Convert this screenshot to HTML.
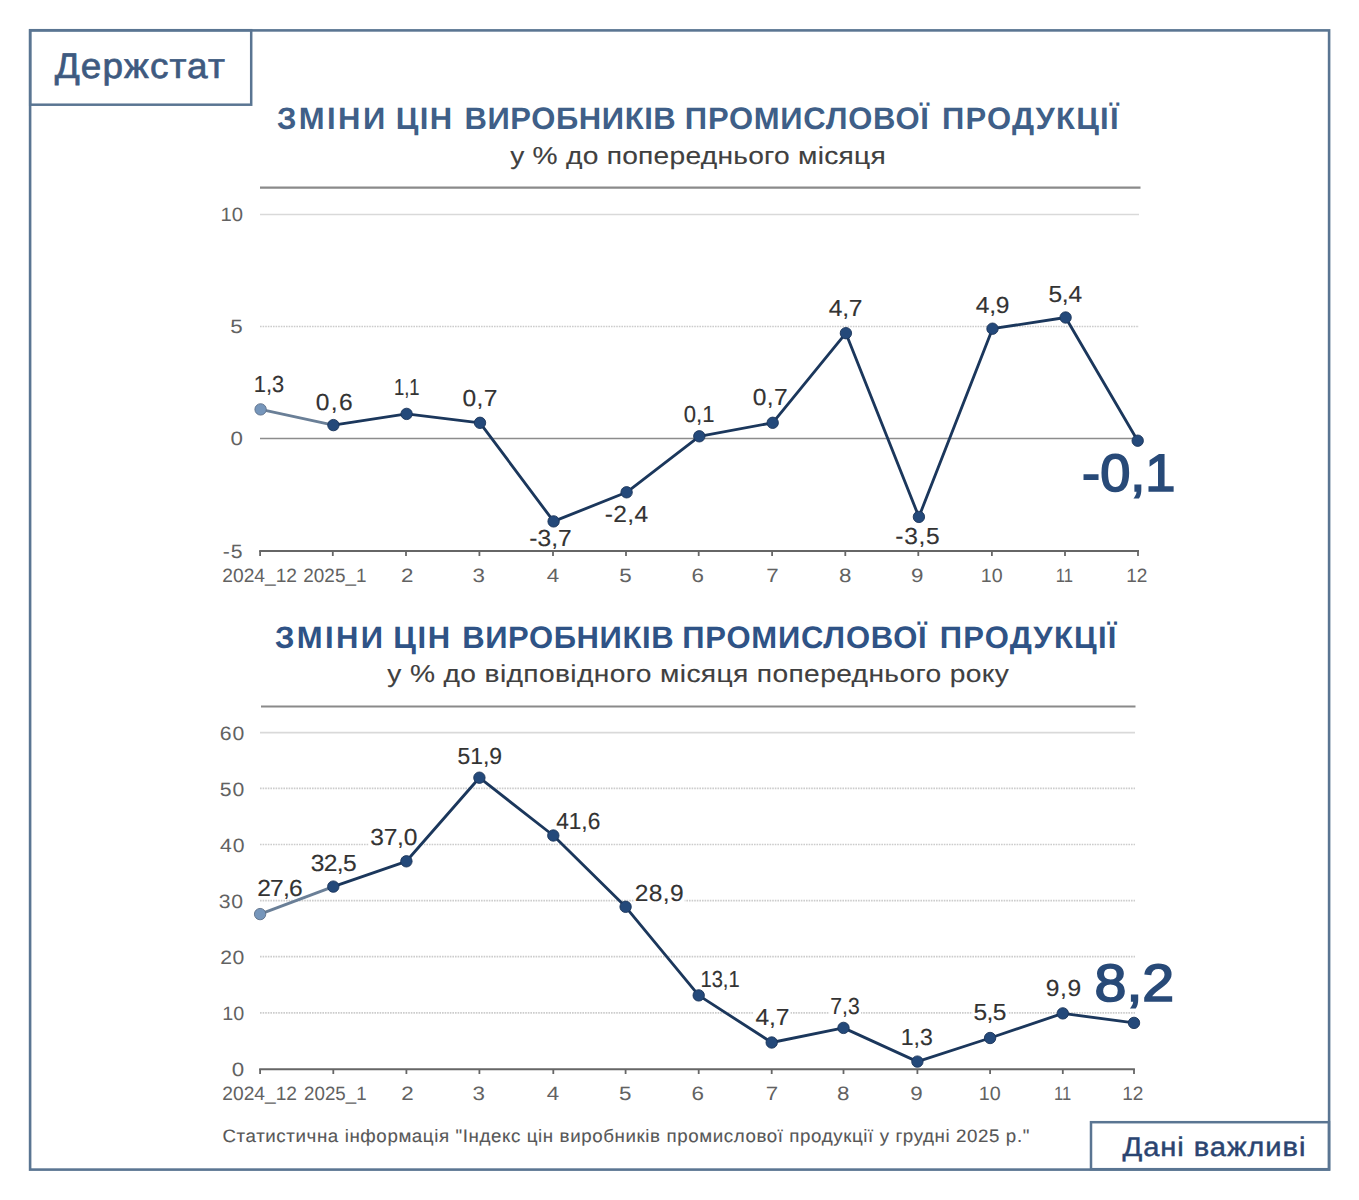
<!DOCTYPE html><html><head><meta charset="utf-8"><title>Держстат</title><style>html,body{margin:0;padding:0;background:#fff;overflow:hidden;}svg{display:block;}text{font-family:"Liberation Sans",sans-serif;text-rendering:geometricPrecision;}</style></head><body>
<svg width="1359" height="1200" viewBox="0 0 1359 1200">
<rect x="0" y="0" width="1359" height="1200" fill="#ffffff"/>
<rect x="30.1" y="30.4" width="1299" height="1139.2" fill="none" stroke="#5a7592" stroke-width="2.6"/>
<rect x="30.2" y="30.2" width="221" height="74.5" fill="none" stroke="#5a7592" stroke-width="2.5"/>
<rect x="1091" y="1122.2" width="238" height="47" fill="none" stroke="#5a7592" stroke-width="2.5"/>
<text transform="translate(54.66,78.00) scale(1.0400,1)" font-size="35.5" fill="#3e5a80" text-anchor="start" font-weight="normal" stroke="#3e5a80" stroke-width="0.7" letter-spacing="1.077">Держстат</text>
<text transform="translate(277.00,129.40) scale(1.0000,1)" font-size="31" fill="#3f5f88" text-anchor="start" font-weight="bold" letter-spacing="2.409">ЗМІНИ</text>
<text transform="translate(274.95,647.60) scale(1.0000,1)" font-size="31" fill="#2f5386" text-anchor="start" font-weight="bold" letter-spacing="2.389">ЗМІНИ</text>
<text transform="translate(395.65,129.40) scale(1.0000,1)" font-size="31" fill="#3f5f88" text-anchor="start" font-weight="bold" letter-spacing="1.425">ЦІН</text>
<text transform="translate(393.26,647.60) scale(1.0000,1)" font-size="31" fill="#2f5386" text-anchor="start" font-weight="bold" letter-spacing="1.584">ЦІН</text>
<text transform="translate(464.47,129.40) scale(1.0000,1)" font-size="31" fill="#3f5f88" text-anchor="start" font-weight="bold" letter-spacing="0.594">ВИРОБНИКІВ</text>
<text transform="translate(462.16,647.60) scale(1.0000,1)" font-size="31" fill="#2f5386" text-anchor="start" font-weight="bold" letter-spacing="0.611">ВИРОБНИКІВ</text>
<text transform="translate(684.85,129.40) scale(1.0000,1)" font-size="31" fill="#3f5f88" text-anchor="start" font-weight="bold" letter-spacing="0.747">ПРОМИСЛОВОЇ</text>
<text transform="translate(682.27,647.60) scale(1.0000,1)" font-size="31" fill="#2f5386" text-anchor="start" font-weight="bold" letter-spacing="0.787">ПРОМИСЛОВОЇ</text>
<text transform="translate(942.06,129.40) scale(1.0000,1)" font-size="31" fill="#3f5f88" text-anchor="start" font-weight="bold" letter-spacing="1.210">ПРОДУКЦІЇ</text>
<text transform="translate(939.69,647.60) scale(1.0000,1)" font-size="31" fill="#2f5386" text-anchor="start" font-weight="bold" letter-spacing="1.240">ПРОДУКЦІЇ</text>
<text transform="translate(510.18,164.00) scale(1.1500,1)" font-size="24.5" fill="#404040" text-anchor="start" font-weight="normal" stroke="#404040" stroke-width="0.12" letter-spacing="0.219">у % до попереднього місяця</text>
<text transform="translate(387.23,681.60) scale(1.1500,1)" font-size="24.5" fill="#404040" text-anchor="start" font-weight="normal" stroke="#404040" stroke-width="0.12" letter-spacing="0.322">у % до відповідного місяця попереднього року</text>
<line x1="260" y1="187.7" x2="1140.5" y2="187.7" stroke="#8a8a8a" stroke-width="2.2"/>
<line x1="260" y1="214.5" x2="1139" y2="214.5" stroke="#d9d9d9" stroke-width="1.6"/>
<line x1="260" y1="326.5" x2="1139" y2="326.5" stroke="#cccccc" stroke-width="1.7" stroke-dasharray="1.6 1"/>
<line x1="260" y1="438.5" x2="1138" y2="438.5" stroke="#8c8c8c" stroke-width="1.3"/>
<line x1="259.2" y1="551.1" x2="1139" y2="551.1" stroke="#666666" stroke-width="2"/>
<line x1="260.1" y1="551" x2="260.1" y2="556" stroke="#666666" stroke-width="1.8"/>
<line x1="332.8" y1="551" x2="332.8" y2="556" stroke="#666666" stroke-width="1.8"/>
<line x1="406.0" y1="551" x2="406.0" y2="556" stroke="#666666" stroke-width="1.8"/>
<line x1="479.4" y1="551" x2="479.4" y2="556" stroke="#666666" stroke-width="1.8"/>
<line x1="553.0" y1="551" x2="553.0" y2="556" stroke="#666666" stroke-width="1.8"/>
<line x1="626.0" y1="551" x2="626.0" y2="556" stroke="#666666" stroke-width="1.8"/>
<line x1="698.7" y1="551" x2="698.7" y2="556" stroke="#666666" stroke-width="1.8"/>
<line x1="772.1" y1="551" x2="772.1" y2="556" stroke="#666666" stroke-width="1.8"/>
<line x1="845.3" y1="551" x2="845.3" y2="556" stroke="#666666" stroke-width="1.8"/>
<line x1="918.3" y1="551" x2="918.3" y2="556" stroke="#666666" stroke-width="1.8"/>
<line x1="991.9" y1="551" x2="991.9" y2="556" stroke="#666666" stroke-width="1.8"/>
<line x1="1065.0" y1="551" x2="1065.0" y2="556" stroke="#666666" stroke-width="1.8"/>
<line x1="1138.0" y1="551" x2="1138.0" y2="556" stroke="#666666" stroke-width="1.8"/>
<text transform="translate(242.93,221.30) scale(1.0506,1)" font-size="19.3" fill="#626262" text-anchor="end" font-weight="normal">10</text>
<text transform="translate(242.76,333.30) scale(1.1600,1)" font-size="19.3" fill="#626262" text-anchor="end" font-weight="normal">5</text>
<text transform="translate(242.97,445.30) scale(1.1600,1)" font-size="19.3" fill="#626262" text-anchor="end" font-weight="normal">0</text>
<text transform="translate(243.60,557.90) scale(1.1000,1)" font-size="19.3" fill="#626262" text-anchor="end" font-weight="normal" letter-spacing="0.876">-5</text>
<text transform="translate(259.69,581.80) scale(0.9947,1)" font-size="19.3" fill="#626262" text-anchor="middle" font-weight="normal">2024_12</text>
<text transform="translate(334.89,581.80) scale(0.9806,1)" font-size="19.3" fill="#626262" text-anchor="middle" font-weight="normal">2025_1</text>
<text transform="translate(407.28,581.80) scale(1.1600,1)" font-size="19.3" fill="#626262" text-anchor="middle" font-weight="normal">2</text>
<text transform="translate(478.73,581.80) scale(1.1600,1)" font-size="19.3" fill="#626262" text-anchor="middle" font-weight="normal">3</text>
<text transform="translate(552.93,581.80) scale(1.1600,1)" font-size="19.3" fill="#626262" text-anchor="middle" font-weight="normal">4</text>
<text transform="translate(625.56,581.80) scale(1.1600,1)" font-size="19.3" fill="#626262" text-anchor="middle" font-weight="normal">5</text>
<text transform="translate(697.79,581.80) scale(1.1600,1)" font-size="19.3" fill="#626262" text-anchor="middle" font-weight="normal">6</text>
<text transform="translate(772.50,581.80) scale(1.1600,1)" font-size="19.3" fill="#626262" text-anchor="middle" font-weight="normal">7</text>
<text transform="translate(845.15,581.80) scale(1.1600,1)" font-size="19.3" fill="#626262" text-anchor="middle" font-weight="normal">8</text>
<text transform="translate(917.29,581.80) scale(1.1600,1)" font-size="19.3" fill="#626262" text-anchor="middle" font-weight="normal">9</text>
<text transform="translate(991.73,581.80) scale(1.0169,1)" font-size="19.3" fill="#626262" text-anchor="middle" font-weight="normal">10</text>
<text transform="translate(1064.47,581.80) scale(0.8616,1)" font-size="19.3" fill="#626262" text-anchor="middle" font-weight="normal">11</text>
<text transform="translate(1136.86,581.80) scale(0.9875,1)" font-size="19.3" fill="#626262" text-anchor="middle" font-weight="normal">12</text>
<rect x="253.5" y="373.2" width="32.0" height="21.2" fill="#fff"/>
<rect x="314.6" y="390.8" width="39.0" height="21.2" fill="#fff"/>
<rect x="393.0" y="376.5" width="27.9" height="21.2" fill="#fff"/>
<rect x="461.4" y="387.1" width="37.2" height="21.2" fill="#fff"/>
<rect x="528.3" y="527.7" width="44.7" height="21.2" fill="#fff"/>
<rect x="604.0" y="503.1" width="45.7" height="21.2" fill="#fff"/>
<rect x="682.5" y="402.8" width="33.2" height="21.2" fill="#fff"/>
<rect x="751.7" y="386.7" width="37.0" height="21.2" fill="#fff"/>
<rect x="827.5" y="296.9" width="36.0" height="21.2" fill="#fff"/>
<rect x="894.5" y="525.1" width="46.3" height="21.2" fill="#fff"/>
<rect x="974.0" y="293.8" width="36.4" height="21.2" fill="#fff"/>
<rect x="1047.6" y="283.4" width="36.0" height="21.2" fill="#fff"/>
<rect x="1081.7" y="451.0" width="94.1" height="42.3" fill="#fff"/>
<line x1="260.6" y1="409.4" x2="333.4" y2="425.1" stroke="#6a7f97" stroke-width="3.0"/>
<polyline points="333.4,425.1 406.6,413.9 480.0,422.8 553.6,521.4 626.6,492.3 699.3,436.3 772.7,422.8 845.9,333.2 918.9,516.9 992.5,328.7 1065.6,317.5 1137.7,440.7" fill="none" stroke="#1b375c" stroke-width="2.85" stroke-linejoin="round"/>
<circle cx="260.6" cy="409.4" r="5.7" fill="#7696bb" stroke="#5f7189" stroke-width="0.9"/>
<circle cx="333.4" cy="425.1" r="5.7" fill="#24497a" stroke="#1b3459" stroke-width="0.9"/>
<circle cx="406.6" cy="413.9" r="5.7" fill="#24497a" stroke="#1b3459" stroke-width="0.9"/>
<circle cx="480.0" cy="422.8" r="5.7" fill="#24497a" stroke="#1b3459" stroke-width="0.9"/>
<circle cx="553.6" cy="521.4" r="5.7" fill="#24497a" stroke="#1b3459" stroke-width="0.9"/>
<circle cx="626.6" cy="492.3" r="5.7" fill="#24497a" stroke="#1b3459" stroke-width="0.9"/>
<circle cx="699.3" cy="436.3" r="5.7" fill="#24497a" stroke="#1b3459" stroke-width="0.9"/>
<circle cx="772.7" cy="422.8" r="5.7" fill="#24497a" stroke="#1b3459" stroke-width="0.9"/>
<circle cx="845.9" cy="333.2" r="5.7" fill="#24497a" stroke="#1b3459" stroke-width="0.9"/>
<circle cx="918.9" cy="516.9" r="5.7" fill="#24497a" stroke="#1b3459" stroke-width="0.9"/>
<circle cx="992.5" cy="328.7" r="5.7" fill="#24497a" stroke="#1b3459" stroke-width="0.9"/>
<circle cx="1065.6" cy="317.5" r="5.7" fill="#24497a" stroke="#1b3459" stroke-width="0.9"/>
<circle cx="1137.7" cy="440.7" r="5.7" fill="#24497a" stroke="#1b3459" stroke-width="0.9"/>
<text transform="translate(269.04,391.90) scale(0.9414,1)" font-size="23.2" fill="#333333" text-anchor="middle" font-weight="normal" stroke="#333333" stroke-width="0.15">1,3</text>
<text transform="translate(334.87,409.50) scale(1.0600,1)" font-size="23.2" fill="#333333" text-anchor="middle" font-weight="normal" stroke="#333333" stroke-width="0.15" letter-spacing="1.267">0,6</text>
<text transform="translate(406.79,395.20) scale(0.7970,1)" font-size="23.2" fill="#333333" text-anchor="middle" font-weight="normal" stroke="#333333" stroke-width="0.15">1,1</text>
<text transform="translate(480.12,405.80) scale(1.0600,1)" font-size="23.2" fill="#333333" text-anchor="middle" font-weight="normal" stroke="#333333" stroke-width="0.15" letter-spacing="0.300">0,7</text>
<text transform="translate(550.50,546.40) scale(1.0600,1)" font-size="23.2" fill="#333333" text-anchor="middle" font-weight="normal" stroke="#333333" stroke-width="0.15" letter-spacing="0.070">-3,7</text>
<text transform="translate(626.68,521.80) scale(1.0600,1)" font-size="23.2" fill="#333333" text-anchor="middle" font-weight="normal" stroke="#333333" stroke-width="0.15" letter-spacing="0.300">-2,4</text>
<text transform="translate(699.06,421.50) scale(0.9512,1)" font-size="23.2" fill="#333333" text-anchor="middle" font-weight="normal" stroke="#333333" stroke-width="0.15">0,1</text>
<text transform="translate(770.43,405.40) scale(1.0600,1)" font-size="23.2" fill="#333333" text-anchor="middle" font-weight="normal" stroke="#333333" stroke-width="0.15" letter-spacing="0.398">0,7</text>
<text transform="translate(845.54,315.60) scale(1.0600,1)" font-size="23.2" fill="#333333" text-anchor="middle" font-weight="normal" stroke="#333333" stroke-width="0.15" letter-spacing="-0.245">4,7</text>
<text transform="translate(917.81,543.80) scale(1.0600,1)" font-size="23.2" fill="#333333" text-anchor="middle" font-weight="normal" stroke="#333333" stroke-width="0.15" letter-spacing="0.600">-3,5</text>
<text transform="translate(992.55,312.50) scale(1.0600,1)" font-size="23.2" fill="#333333" text-anchor="middle" font-weight="normal" stroke="#333333" stroke-width="0.15" letter-spacing="-0.242">4,9</text>
<text transform="translate(1065.19,302.10) scale(1.0600,1)" font-size="23.2" fill="#333333" text-anchor="middle" font-weight="normal" stroke="#333333" stroke-width="0.15" letter-spacing="-0.197">5,4</text>
<text transform="translate(1128.78,490.80) scale(1.0318,1)" font-size="52.5" fill="#284a78" text-anchor="middle" font-weight="normal" stroke="#284a78" stroke-width="1.7">-0,1</text>
<line x1="261" y1="706.5" x2="1135.5" y2="706.5" stroke="#8a8a8a" stroke-width="2.2"/>
<line x1="260" y1="732.6" x2="1135" y2="732.6" stroke="#d9d9d9" stroke-width="1.6"/>
<line x1="260" y1="788.4" x2="1135" y2="788.4" stroke="#cccccc" stroke-width="1.7" stroke-dasharray="1.6 1"/>
<line x1="260" y1="844.5" x2="1135" y2="844.5" stroke="#cccccc" stroke-width="1.7" stroke-dasharray="1.6 1"/>
<line x1="260" y1="900.6" x2="1135" y2="900.6" stroke="#cccccc" stroke-width="1.7" stroke-dasharray="1.6 1"/>
<line x1="260" y1="956.7" x2="1135" y2="956.7" stroke="#cccccc" stroke-width="1.7" stroke-dasharray="1.6 1"/>
<line x1="260" y1="1012.8" x2="1135" y2="1012.8" stroke="#cccccc" stroke-width="1.7" stroke-dasharray="1.6 1"/>
<line x1="259.2" y1="1069.2" x2="1134.9" y2="1069.2" stroke="#666666" stroke-width="2"/>
<line x1="260.1" y1="1069" x2="260.1" y2="1074" stroke="#666666" stroke-width="1.8"/>
<line x1="333.3" y1="1069" x2="333.3" y2="1074" stroke="#666666" stroke-width="1.8"/>
<line x1="406.4" y1="1069" x2="406.4" y2="1074" stroke="#666666" stroke-width="1.8"/>
<line x1="479.4" y1="1069" x2="479.4" y2="1074" stroke="#666666" stroke-width="1.8"/>
<line x1="553.3" y1="1069" x2="553.3" y2="1074" stroke="#666666" stroke-width="1.8"/>
<line x1="625.6" y1="1069" x2="625.6" y2="1074" stroke="#666666" stroke-width="1.8"/>
<line x1="698.7" y1="1069" x2="698.7" y2="1074" stroke="#666666" stroke-width="1.8"/>
<line x1="771.7" y1="1069" x2="771.7" y2="1074" stroke="#666666" stroke-width="1.8"/>
<line x1="843.5" y1="1069" x2="843.5" y2="1074" stroke="#666666" stroke-width="1.8"/>
<line x1="917.4" y1="1069" x2="917.4" y2="1074" stroke="#666666" stroke-width="1.8"/>
<line x1="990.1" y1="1069" x2="990.1" y2="1074" stroke="#666666" stroke-width="1.8"/>
<line x1="1062.8" y1="1069" x2="1062.8" y2="1074" stroke="#666666" stroke-width="1.8"/>
<line x1="1134.0" y1="1069" x2="1134.0" y2="1074" stroke="#666666" stroke-width="1.8"/>
<text transform="translate(245.26,739.50) scale(1.1000,1)" font-size="19.3" fill="#626262" text-anchor="end" font-weight="normal" letter-spacing="0.838">60</text>
<text transform="translate(245.18,795.60) scale(1.1000,1)" font-size="19.3" fill="#626262" text-anchor="end" font-weight="normal" letter-spacing="0.848">50</text>
<text transform="translate(245.39,851.70) scale(1.1000,1)" font-size="19.3" fill="#626262" text-anchor="end" font-weight="normal" letter-spacing="0.813">40</text>
<text transform="translate(243.83,907.80) scale(1.1000,1)" font-size="19.3" fill="#626262" text-anchor="end" font-weight="normal" letter-spacing="0.690">30</text>
<text transform="translate(244.85,963.90) scale(1.1000,1)" font-size="19.3" fill="#626262" text-anchor="end" font-weight="normal" letter-spacing="0.418">20</text>
<text transform="translate(244.11,1020.00) scale(1.0230,1)" font-size="19.3" fill="#626262" text-anchor="end" font-weight="normal">10</text>
<text transform="translate(244.14,1076.40) scale(1.1600,1)" font-size="19.3" fill="#626262" text-anchor="end" font-weight="normal">0</text>
<text transform="translate(259.69,1100.30) scale(0.9947,1)" font-size="19.3" fill="#626262" text-anchor="middle" font-weight="normal">2024_12</text>
<text transform="translate(335.32,1100.30) scale(0.9707,1)" font-size="19.3" fill="#626262" text-anchor="middle" font-weight="normal">2025_1</text>
<text transform="translate(407.58,1100.30) scale(1.1600,1)" font-size="19.3" fill="#626262" text-anchor="middle" font-weight="normal">2</text>
<text transform="translate(478.73,1100.30) scale(1.1600,1)" font-size="19.3" fill="#626262" text-anchor="middle" font-weight="normal">3</text>
<text transform="translate(553.08,1100.30) scale(1.1600,1)" font-size="19.3" fill="#626262" text-anchor="middle" font-weight="normal">4</text>
<text transform="translate(625.24,1100.30) scale(1.1600,1)" font-size="19.3" fill="#626262" text-anchor="middle" font-weight="normal">5</text>
<text transform="translate(697.79,1100.30) scale(1.1600,1)" font-size="19.3" fill="#626262" text-anchor="middle" font-weight="normal">6</text>
<text transform="translate(771.90,1100.30) scale(1.1600,1)" font-size="19.3" fill="#626262" text-anchor="middle" font-weight="normal">7</text>
<text transform="translate(843.31,1100.30) scale(1.1600,1)" font-size="19.3" fill="#626262" text-anchor="middle" font-weight="normal">8</text>
<text transform="translate(916.49,1100.30) scale(1.1600,1)" font-size="19.3" fill="#626262" text-anchor="middle" font-weight="normal">9</text>
<text transform="translate(989.85,1100.30) scale(1.0241,1)" font-size="19.3" fill="#626262" text-anchor="middle" font-weight="normal">10</text>
<text transform="translate(1062.53,1100.30) scale(0.8597,1)" font-size="19.3" fill="#626262" text-anchor="middle" font-weight="normal">11</text>
<text transform="translate(1132.86,1100.30) scale(0.9875,1)" font-size="19.3" fill="#626262" text-anchor="middle" font-weight="normal">12</text>
<rect x="255.9" y="877.2" width="47.8" height="21.2" fill="#fff"/>
<rect x="309.8" y="852.5" width="48.2" height="21.2" fill="#fff"/>
<rect x="368.9" y="826.6" width="49.6" height="21.2" fill="#fff"/>
<rect x="456.2" y="744.8" width="47.0" height="21.2" fill="#fff"/>
<rect x="554.5" y="810.2" width="47.0" height="21.2" fill="#fff"/>
<rect x="634.2" y="881.9" width="50.5" height="21.2" fill="#fff"/>
<rect x="699.9" y="968.2" width="40.9" height="21.2" fill="#fff"/>
<rect x="754.0" y="1006.6" width="36.4" height="21.2" fill="#fff"/>
<rect x="829.1" y="994.8" width="31.9" height="21.2" fill="#fff"/>
<rect x="900.5" y="1026.3" width="33.4" height="21.2" fill="#fff"/>
<rect x="972.4" y="1001.5" width="35.3" height="21.2" fill="#fff"/>
<rect x="1044.3" y="976.9" width="37.9" height="21.2" fill="#fff"/>
<rect x="1094.2" y="960.9" width="80.2" height="42.3" fill="#fff"/>
<line x1="260.1" y1="914.1" x2="333.3" y2="886.6" stroke="#6a7f97" stroke-width="3.0"/>
<polyline points="333.3,886.6 406.4,861.3 479.4,777.7 553.3,835.5 625.6,906.8 698.7,995.4 771.7,1042.5 843.5,1027.9 917.4,1061.6 990.1,1038.0 1062.8,1013.4 1134.0,1022.9" fill="none" stroke="#1b375c" stroke-width="2.85" stroke-linejoin="round"/>
<circle cx="260.1" cy="914.1" r="5.7" fill="#7696bb" stroke="#5f7189" stroke-width="0.9"/>
<circle cx="333.3" cy="886.6" r="5.7" fill="#24497a" stroke="#1b3459" stroke-width="0.9"/>
<circle cx="406.4" cy="861.3" r="5.7" fill="#24497a" stroke="#1b3459" stroke-width="0.9"/>
<circle cx="479.4" cy="777.7" r="5.7" fill="#24497a" stroke="#1b3459" stroke-width="0.9"/>
<circle cx="553.3" cy="835.5" r="5.7" fill="#24497a" stroke="#1b3459" stroke-width="0.9"/>
<circle cx="625.6" cy="906.8" r="5.7" fill="#24497a" stroke="#1b3459" stroke-width="0.9"/>
<circle cx="698.7" cy="995.4" r="5.7" fill="#24497a" stroke="#1b3459" stroke-width="0.9"/>
<circle cx="771.7" cy="1042.5" r="5.7" fill="#24497a" stroke="#1b3459" stroke-width="0.9"/>
<circle cx="843.5" cy="1027.9" r="5.7" fill="#24497a" stroke="#1b3459" stroke-width="0.9"/>
<circle cx="917.4" cy="1061.6" r="5.7" fill="#24497a" stroke="#1b3459" stroke-width="0.9"/>
<circle cx="990.1" cy="1038.0" r="5.7" fill="#24497a" stroke="#1b3459" stroke-width="0.9"/>
<circle cx="1062.8" cy="1013.4" r="5.7" fill="#24497a" stroke="#1b3459" stroke-width="0.9"/>
<circle cx="1134.0" cy="1022.9" r="5.7" fill="#24497a" stroke="#1b3459" stroke-width="0.9"/>
<text transform="translate(279.50,895.90) scale(1.0600,1)" font-size="23.2" fill="#333333" text-anchor="middle" font-weight="normal" stroke="#333333" stroke-width="0.15" letter-spacing="-0.736">27,6</text>
<text transform="translate(333.42,871.20) scale(1.0600,1)" font-size="23.2" fill="#333333" text-anchor="middle" font-weight="normal" stroke="#333333" stroke-width="0.15" letter-spacing="-0.548">32,5</text>
<text transform="translate(393.70,845.30) scale(1.0600,1)" font-size="23.2" fill="#333333" text-anchor="middle" font-weight="normal" stroke="#333333" stroke-width="0.15" letter-spacing="-0.198">37,0</text>
<text transform="translate(479.79,763.50) scale(0.9879,1)" font-size="23.2" fill="#333333" text-anchor="middle" font-weight="normal" stroke="#333333" stroke-width="0.15">51,9</text>
<text transform="translate(578.19,828.90) scale(0.9771,1)" font-size="23.2" fill="#333333" text-anchor="middle" font-weight="normal" stroke="#333333" stroke-width="0.15">41,6</text>
<text transform="translate(659.32,900.60) scale(1.0600,1)" font-size="23.2" fill="#333333" text-anchor="middle" font-weight="normal" stroke="#333333" stroke-width="0.15" letter-spacing="0.310">28,9</text>
<text transform="translate(720.05,986.90) scale(0.8689,1)" font-size="23.2" fill="#333333" text-anchor="middle" font-weight="normal" stroke="#333333" stroke-width="0.15">13,1</text>
<text transform="translate(772.31,1025.30) scale(1.0600,1)" font-size="23.2" fill="#333333" text-anchor="middle" font-weight="normal" stroke="#333333" stroke-width="0.15" letter-spacing="-0.108">4,7</text>
<text transform="translate(844.98,1013.50) scale(0.9110,1)" font-size="23.2" fill="#333333" text-anchor="middle" font-weight="normal" stroke="#333333" stroke-width="0.15">7,3</text>
<text transform="translate(916.80,1045.00) scale(0.9959,1)" font-size="23.2" fill="#333333" text-anchor="middle" font-weight="normal" stroke="#333333" stroke-width="0.15">1,3</text>
<text transform="translate(989.64,1020.20) scale(1.0600,1)" font-size="23.2" fill="#333333" text-anchor="middle" font-weight="normal" stroke="#333333" stroke-width="0.15" letter-spacing="-0.542">5,5</text>
<text transform="translate(1063.84,995.60) scale(1.0600,1)" font-size="23.2" fill="#333333" text-anchor="middle" font-weight="normal" stroke="#333333" stroke-width="0.15" letter-spacing="0.685">9,9</text>
<text transform="translate(1134.39,1000.70) scale(1.0921,1)" font-size="52.5" fill="#284a78" text-anchor="middle" font-weight="normal" stroke="#284a78" stroke-width="1.7">8,2</text>
<text transform="translate(222.46,1141.60) scale(1.0400,1)" font-size="18" fill="#575757" text-anchor="start" font-weight="normal" stroke="#575757" stroke-width="0.1" letter-spacing="0.577">Статистична інформація "Індекс цін виробників промислової продукції у грудні 2025 р."</text>
<text transform="translate(1122.51,1155.50) scale(1.0800,1)" font-size="27" fill="#2a4470" text-anchor="start" font-weight="normal" stroke="#2a4470" stroke-width="0.45" letter-spacing="0.847">Дані важливі</text>
</svg></body></html>
